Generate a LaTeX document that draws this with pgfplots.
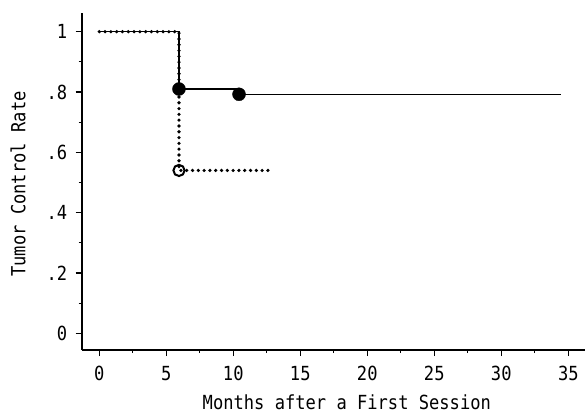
\documentclass[border=0pt]{standalone}
\usepackage{fontspec}
\setmainfont[FakeStretch=0.88]{DejaVu Sans Mono}
\usepackage{pgfplots}
\pgfplotsset{compat=1.18}

\begin{document}
\begin{tikzpicture}[x=1bp,y=1bp]
    \useasboundingbox (0,0) rectangle (585,414);
    \begin{axis}[
            at={(81.7bp,64bp)}, anchor=south west,
            scale only axis,
            width=504bp, height=336.7bp,
            xmin=-1.31, xmax=36.3,
            ymin=-0.0554, ymax=1.061,
            axis x line*=bottom,
            axis y line*=left,
            axis line style={line width=2bp, -},
            tick align=outside,
            major tick length=6bp,
            minor tick length=3bp,
            every tick/.style={line width=1.2bp, black},
            xtick={0,5,...,35},
            xticklabels={0,5,10,15,20,25,30,35},
            minor xtick={2.5,7.5,...,32.5},
            ytick={0,0.2,0.4,0.6,0.8,1},
            yticklabels={0,.2,.4,.6,.8,1},
            minor ytick={0.1,0.3,0.5,0.7,0.9},
            ticklabel style={font=\fontsize{19.5}{20}\selectfont},
            xticklabel style={yshift=-7bp},
            yticklabel style={xshift=-5bp},
            xlabel={Months after a First Session},
            ylabel={Tumor Control Rate},
            xlabel style={font=\fontsize{19.5}{20}\selectfont,
                at={(axis description cs:0.526,0)}, anchor=base, yshift=-59.5bp},
            ylabel style={font=\fontsize{19.5}{20}\selectfont,
                at={(axis description cs:-0.1264,0.493)}, anchor=center},
            /pgf/number format/assume math mode=true,
            clip=false,
        ]

        % solid group
        \addplot[const plot, black, line width=1.5bp] coordinates {
                (0,1) (5.95,0.81) (10.43,0.7925) (34.43,0.7925)
            };
        % dotted group
        \addplot[const plot, black, line width=3.6bp, line cap=round,
            dash pattern=on 0bp off 5.8bp] coordinates {
                (0,1) (5.95,0.54) (13,0.54)
            };
        \addplot[only marks, mark=*, mark size=6.5bp, black] coordinates {
                (5.95,0.81) (10.43,0.7925)
            };
        \addplot[only marks, mark=o, mark size=5.6bp, black, line width=2bp] coordinates {
                (5.95,0.54)
            };
    \end{axis}
\end{tikzpicture}
\end{document}
